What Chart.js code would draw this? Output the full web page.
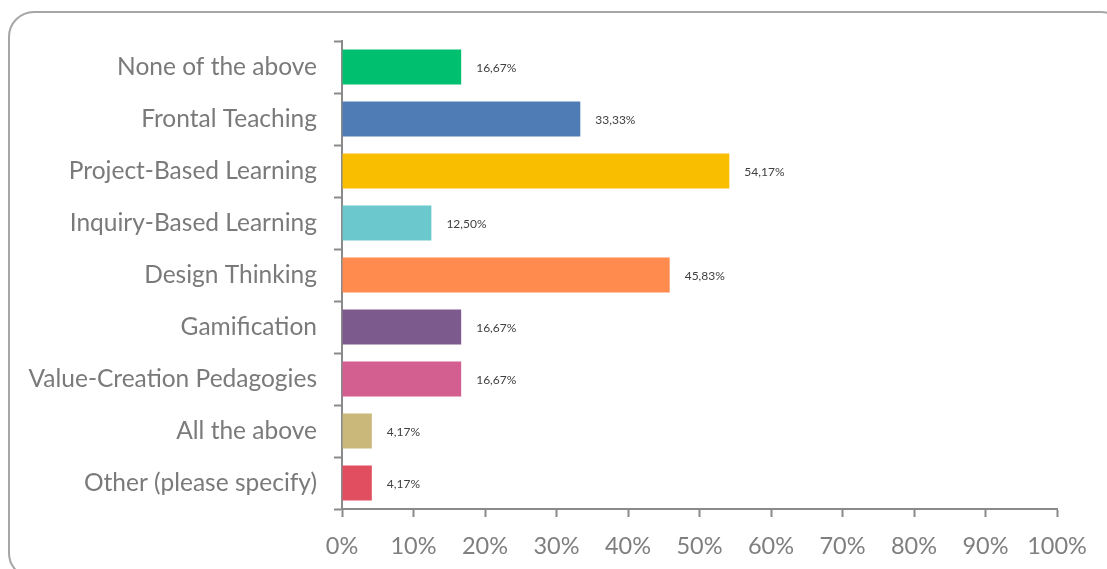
<!DOCTYPE html>
<html>
<head>
<meta charset="utf-8">
<script src="https://cdn.jsdelivr.net/npm/chart.js@4/dist/chart.umd.min.js"></script>
<style>
    html, body { margin: 0; padding: 0; background: #fff; overflow: hidden; }
    #wrap { position: relative; width: 1107px; height: 569px; overflow: hidden; }
    #frame {
        position: absolute; left: 8px; top: 11px; width: 1115px; height: 564px;
        border: 2px solid #a6a6a6; border-radius: 26px;
    }
    #chart { position: absolute; left: 0; top: 0; }
</style>
</head>
<body>
<div id="wrap">
    <div id="frame"></div>
    <canvas id="chart" width="1107" height="569"></canvas>
</div>
<script>
const categories = [
    'None of the above',
    'Frontal Teaching',
    'Project-Based Learning',
    'Inquiry-Based Learning',
    'Design Thinking',
    'Gamification',
    'Value-Creation Pedagogies',
    'All the above',
    'Other (please specify)'
];
const percentages = [16.67, 33.33, 54.17, 12.50, 45.83, 16.67, 16.67, 4.17, 4.17];
const barColors = ['#00bf6f', '#507cb6', '#f9be00', '#6bc8cd', '#ff8b4f', '#7d5a8d', '#d25f90', '#c9b87a', '#e04e5f'];
const xTicks = [0, 10, 20, 30, 40, 50, 60, 70, 80, 90, 100];

const axisColor = '#8a8a8a';
const font = 'Lato, "Open Sans", sans-serif';

// draws the small value labels to the right of each bar
const valueLabels = {
    id: 'valueLabels',
    afterDatasetsDraw(chart) {
        const ctx = chart.ctx;
        const meta = chart.getDatasetMeta(0);
        ctx.save();
        ctx.font = '12px ' + font;
        ctx.fillStyle = '#404040';
        ctx.textBaseline = 'middle';
        ctx.textAlign = 'left';
        meta.data.forEach((bar, i) => {
            const txt = percentages[i].toFixed(2).replace('.', ',') + '%';
            ctx.fillText(txt, bar.x + 15, bar.y + 1);
        });
        ctx.restore();
    }
};

new Chart(document.getElementById('chart'), {
    type: 'bar',
    data: {
        labels: categories,
        datasets: [{
            data: percentages,
            backgroundColor: barColors,
            borderWidth: 0,
            barPercentage: 0.67,
            categoryPercentage: 1
        }]
    },
    options: {
        indexAxis: 'y',
        responsive: false,
        animation: false,
        layout: { padding: { left: 0, top: 41, right: 50, bottom: 0 } },
        plugins: {
            legend: { display: false },
            tooltip: { enabled: false }
        },
        scales: {
            x: {
                min: 0,
                max: 100,
                afterBuildTicks(scale) {
                    scale.ticks = xTicks.map(v => ({ value: v }));
                },
                afterFit(scale) { scale.height = 60; },
                grid: {
                    drawOnChartArea: false,
                    drawTicks: true,
                    tickLength: 8,
                    tickWidth: 2,
                    tickColor: axisColor
                },
                border: { color: axisColor, width: 2 },
                ticks: {
                    autoSkip: false,
                    maxRotation: 0,
                    padding: 15,
                    color: '#7f7f7f',
                    font: { family: font, size: 23.5 },
                    callback: v => v + '%'
                }
            },
            y: {
                afterFit(scale) { scale.width = 342; },
                grid: {
                    offset: true,
                    drawOnChartArea: false,
                    drawTicks: true,
                    tickLength: 8,
                    tickWidth: 2,
                    tickColor: axisColor
                },
                border: { color: axisColor, width: 2 },
                ticks: {
                    padding: 17,
                    color: '#7a7a7a',
                    font: { family: font, size: 24.5 }
                }
            }
        }
    },
    plugins: [valueLabels]
});
</script>
</body>
</html>
